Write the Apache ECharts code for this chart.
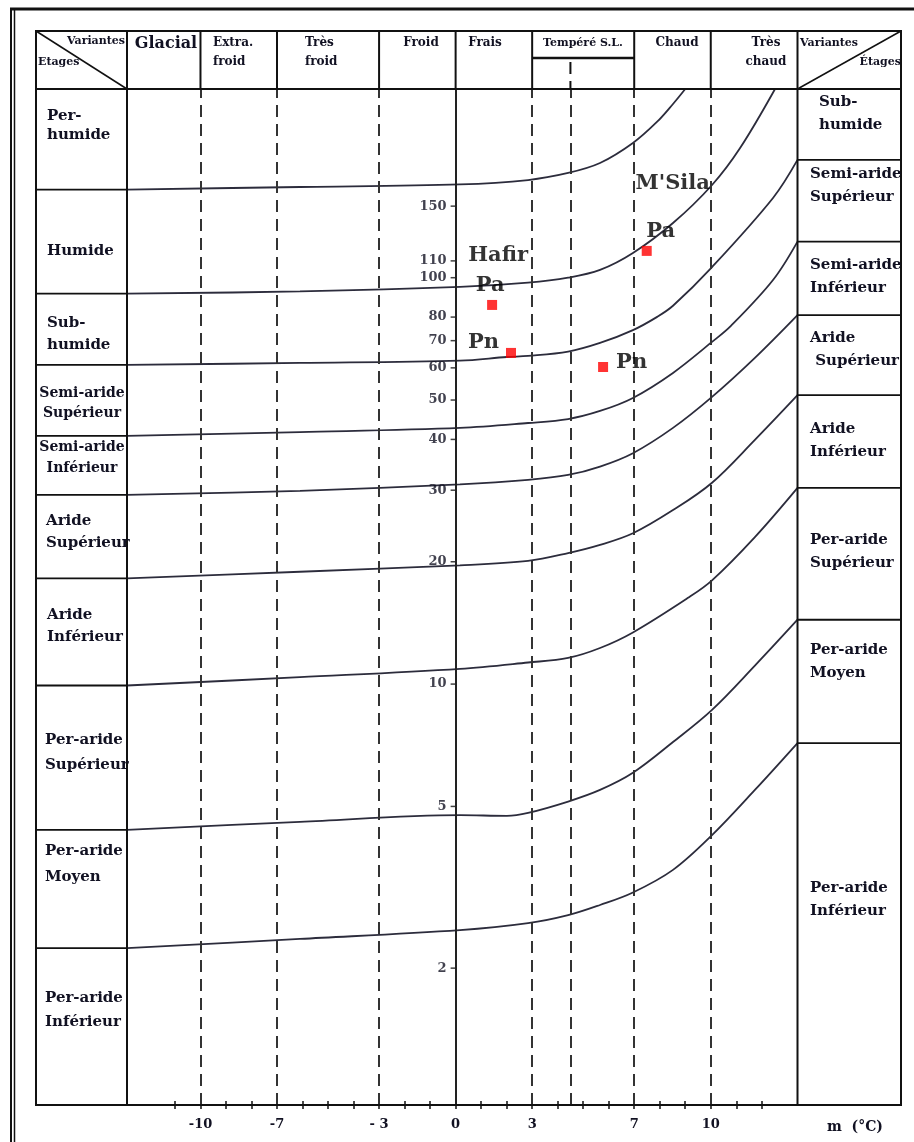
<!DOCTYPE html>
<html><head><meta charset="utf-8">
<script src="https://cdn.jsdelivr.net/npm/echarts@6/dist/echarts.min.js"></script>
<style>html,body{margin:0;padding:0;background:#fff}#c{width:914px;height:1142px}</style>
</head><body><div id="c"></div>
<script>
// ---------- axes ----------
const xMin = -12.88, xMax = 13.4;          // m (°C) range of the plot
const qMin = 0.921, qMax = 291.3;          // Q2 range (log)
const variantBounds = [-10, -7, -3, 0, 3, 7, 10];
const temperateSplit = 4.5;
const xTickValues = [-11,-10,-9,-8,-7,-6,-5,-4,-3,-2,-1,0,1,2,3,4,5,6,7,8,9,10,11,12];
const xLabelValues = [-10, -7, -3, 0, 3, 7, 10];
const xLabelTexts = ['-10', '-7', '- 3', '0', '3', '7', '10'];
const qTickValues = [2, 5, 10, 20, 30, 40, 50, 60, 70, 80, 100, 110, 150];

// ---------- bioclimatic boundaries [m, Q2] ----------
const curvePerhumideHumide = [[-12.88,164.8],[-6.10,167.2],[0.17,169.6],[2.84,173.9],[4.41,181.0],[5.66,191.5],[6.95,214.5],[7.90,242.0],[8.52,267.6],[9.00,291.3]];
const curveHumideSubhumide = [[-12.88,91.4],[-6.10,92.5],[0.17,94.9],[2.84,97.2],[4.41,100],[5.66,104.5],[6.95,115.0],[8.52,136.3],[10.05,169.1],[11.15,208.5],[12.52,291.3]];
const curveSubhumideSemiarideSup = [[-12.88,61.0],[-6.10,61.7],[0.17,62.5],[2.01,63.8],[2.84,64.2],[4.41,65.8],[5.66,69.1],[6.95,74.3],[7.90,80.1],[8.52,85.3],[10.05,106.2],[12.44,157.1],[13.4,194.9]];
const curveSemiarideSupInf = [[-12.88,40.8],[-6.10,41.7],[0.17,42.7],[2.84,43.9],[4.41,44.9],[5.66,47.0],[6.95,50.6],[8.52,58.3],[10.05,69.5],[10.79,76.1],[12.44,98.7],[13.4,122.7]];
const curveSemiarideInfArideSup = [[-12.88,29.2],[-6.10,29.9],[0.17,31.0],[2.84,31.8],[4.41,32.7],[5.66,34.3],[6.95,37.0],[8.52,42.7],[10.05,50.9],[11.73,63.5],[13.4,80.9]];
const curveArideSupInf = [[-12.88,18.2],[-6.10,18.9],[0.17,19.6],[2.84,20.1],[4.41,21.0],[5.66,22.0],[6.95,23.5],[8.52,26.8],[10.05,31.3],[11.73,39.9],[13.4,51.4]];
const curveArideInfPerarideSup = [[-12.88,9.92],[-6.10,10.4],[0.17,10.9],[2.84,11.3],[4.41,11.6],[5.66,12.27],[6.95,13.4],[9.11,16.3],[10.05,18.0],[11.73,23.0],[13.4,30.4]];
const curvePerarideSupMoyen = [[-12.88,4.38],[-6.10,4.58],[0.17,4.76],[2.01,4.74],[2.84,4.82],[4.41,5.14],[5.66,5.49],[6.95,6.05],[8.52,7.20],[10.05,8.64],[11.73,11.1],[13.4,14.4]];
const curvePerarideMoyenInf = [[-12.88,2.24],[-6.10,2.36],[0.17,2.48],[2.84,2.58],[4.41,2.70],[5.66,2.86],[6.95,3.07],[8.52,3.49],[10.05,4.25],[11.73,5.49],[13.4,7.16]];

// ---------- stations ----------
const stationNames = ['Hafir', 'Hafir', "M'Sila", "M'Sila"];
const stationPeriods = ['Pa', 'Pn', 'Pa', 'Pn'];
const stationM = [1.43, 2.17, 7.49, 5.78];
const stationQ = [85.7, 65.3, 116.4, 60.3];

// ---------- texts ----------
const variantHeaders = ['Glacial', 'Extra.\nfroid', 'Très\nfroid', 'Froid', 'Frais', 'Tempéré S.L.', 'Chaud', 'Très\nchaud'];
const leftStages = ['Per-\nhumide','Humide','Sub-\nhumide','Semi-aride\nSupérieur','Semi-aride\nInférieur','Aride\nSupérieur','Aride\nInférieur','Per-aride\nSupérieur','Per-aride\nMoyen','Per-aride\nInférieur'];
const rightStages = ['Sub-\nhumide','Semi-aride\nSupérieur','Semi-aride\nInférieur','Aride\n Supérieur','Aride\nInférieur','Per-aride\nSupérieur','Per-aride\nMoyen','Per-aride\nInférieur'];

const FONT = '"DejaVu Serif", "Liberation Serif", serif';
const INK = '#111122';
const curveList = [curvePerhumideHumide, curveHumideSubhumide, curveSubhumideSemiarideSup, curveSemiarideSupInf, curveSemiarideInfArideSup, curveArideSupInf, curveArideInfPerarideSup, curvePerarideSupMoyen, curvePerarideMoyenInf];

const chart = echarts.init(document.getElementById('c'), null, {renderer: 'canvas'});

const dashedStyle = {color: '#333', width: 2, type: [12, 7]};
const markData = variantBounds.concat([temperateSplit]).map(v => ({
  xAxis: v,
  lineStyle: v === 0 ? {color: '#222', width: 2, type: 'solid'} : dashedStyle
}));

const stationLabel = [
  {position: 'top', distance: 3, offset: [-2, 0], rich: {n: {fontSize: 21, lineHeight: 38, padding: [0, 0, 0, 16]}, p: {fontSize: 21, lineHeight: 22}}, named: true},
  {position: 'left', distance: 7, offset: [0, -10]},
  {position: 'top', distance: 3, offset: [14, 0], rich: {n: {fontSize: 21, lineHeight: 74, padding: [0, 0, 0, 24]}, p: {fontSize: 21, lineHeight: 22}}, named: true},
  {position: 'right', distance: 8, offset: [0, -4]}
];

const option = {
  animation: false,
  backgroundColor: '#fff',
  grid: {left: 127, right: 116.5, top: 89, bottom: 37, containLabel: false, outerBoundsMode: 'none'},
  xAxis: [{
    type: 'value', min: xMin, max: xMax, position: 'bottom',
    axisLine: {show: true, onZero: false, lineStyle: {color: '#111', width: 2}},
    axisTick: {show: true, customValues: xTickValues, length: 4, lineStyle: {color: '#111', width: 1.5}},
    axisLabel: {customValues: xLabelValues, margin: 13, color: INK, fontFamily: FONT, fontWeight: 'bold', fontSize: 13,
      formatter: v => { const i = xLabelValues.indexOf(Math.round(v)); return i >= 0 ? xLabelTexts[i] : ''; }},
    splitLine: {show: false}
  }, {
    type: 'value', min: xMin, max: xMax, position: 'bottom', offset: 0,
    axisLine: {show: false},
    axisTick: {show: true, inside: true, customValues: xTickValues, length: 4, lineStyle: {color: '#111', width: 1.5}},
    axisLabel: {show: false}, splitLine: {show: false}
  }],
  yAxis: {type: 'log', logBase: 10, min: qMin, max: qMax, show: false},
  series: curveList.map(c => ({
    type: 'line', data: c, showSymbol: false, symbol: 'none', smooth: 0.35,
    lineStyle: {color: '#2c2c3c', width: 1.8}, silent: true, z: 3
  })).concat([{
    type: 'scatter', name: 'Q2', data: qTickValues.map(q => [0, q]),
    symbol: 'rect', symbolSize: [5, 1.5], symbolOffset: [-2.5, 0], itemStyle: {color: '#111'}, silent: true, z: 4,
    label: {show: true, position: 'left', distance: 4, formatter: p => String(p.value[1]),
      color: INK, fontFamily: FONT, fontWeight: 'bold', fontSize: 13},
    markLine: {silent: true, symbol: 'none', label: {show: false}, animation: false, data: markData}
  }, {
    type: 'scatter', name: 'stations',
    data: stationM.map((m, i) => ({
      value: [m, stationQ[i]],
      label: Object.assign({
        show: true, color: '#000', fontFamily: FONT, fontWeight: 'bold', fontSize: 21,
        formatter: stationLabel[i].named ? '{n|' + stationNames[i] + '}\n{p|' + stationPeriods[i] + '}' : stationPeriods[i]
      }, (({named, ...rest}) => rest)(stationLabel[i]))
    })),
    symbol: 'rect', symbolSize: 10, itemStyle: {color: '#ff0000'}, silent: true, z: 6
  }])
};
chart.setOption(option);

// ---------- frame, table cells and texts ----------
const px = m => chart.convertToPixel({xAxisIndex: 0}, m);
const py = q => chart.convertToPixel({yAxisIndex: 0}, q);
const g = [];
const L = (x1, y1, x2, y2, w, dash) => g.push({type: 'line', silent: true, z: 10,
  shape: {x1, y1, x2, y2}, style: {stroke: '#111', lineWidth: w, lineDash: dash || null}});
const T = (t, x, y, size, align, lh) => g.push({type: 'text', silent: true, z: 11, x, y,
  style: {text: t, fill: INK, fontFamily: FONT, fontWeight: 'bold', fontSize: size, align: align || 'left', verticalAlign: 'middle', lineHeight: lh || Math.round(size * 1.45)}});

const TL = 36, TR = 901, TT = 31, TB = 1105, HB = 89;
const PL = px(xMin), PR = px(xMax);

// outer page frame
L(10, 9, 914, 9, 3);
L(11, 8, 11, 1142, 2);
L(14.5, 10, 14.5, 1142, 1.5);
// table outline
g.push({type: 'rect', silent: true, z: 10, shape: {x: TL, y: TT, width: TR - TL, height: TB - TT}, style: {fill: null, stroke: '#111', lineWidth: 2}});
L(TL, HB, TR, HB, 2);
L(PL, TT, PL, TB, 2);
L(PR, TT, PR, TB, 2);
variantBounds.forEach(v => L(px(v), TT, px(v), HB, 2));
// Tempéré S.L. sub-cell
L(px(3), 58, px(7), 58, 2.5);
L(px(temperateSplit), 62, px(temperateSplit), HB, 2, [12, 7]);
// diagonals
L(TL, TT, PL, HB, 1.5);
L(PR, HB, TR, TT, 1.5);
// stage separators in side columns
curveList.forEach(c => L(TL, py(c[0][1]), PL, py(c[0][1]), 1.8));
curveList.slice(2).forEach(c => L(PR, py(c[c.length - 1][1]), TR, py(c[c.length - 1][1]), 1.8));

// header texts
T('Variantes', 125, 41, 11, 'right');
T('Etages', 38, 62, 11, 'left');
T(variantHeaders[0], 166, 44, 16, 'center');
T(variantHeaders[1], 213, 52, 12, 'left', 19);
T(variantHeaders[2], 305, 52, 12, 'left', 19);
T(variantHeaders[3], 421, 43, 12, 'center');
T(variantHeaders[4], 485, 43, 12, 'center');
T(variantHeaders[5], 583, 43, 11, 'center');
T(variantHeaders[6], 677, 43, 12, 'center');
T(variantHeaders[7], 766, 52, 12, 'center', 19);
T('Variantes', 800, 43, 11, 'left');
T('Étages', 901, 62, 11, 'right');

// left column stage labels
const leftPos = [[47,126,'left',19,15],[47,251,'left',22,15],[47,334,'left',22,15],[82,403,'center',20,14],[82,458,'center',21,14],[46,532,'left',22,15],[47,626,'left',22,15],[45,753,'left',25,15],[45,864,'left',26,15],[45,1010,'left',24,15]];
leftStages.forEach((s, i) => T(s, leftPos[i][0], leftPos[i][1], leftPos[i][4], leftPos[i][2], leftPos[i][3]));
// right column stage labels
const rightPos = [[819,114],[810,186],[810,277],[810,350],[810,441],[810,552],[810,662],[810,900]];
rightStages.forEach((s, i) => T(s, rightPos[i][0], rightPos[i][1], 15, 'left', 23));

// axis title
T('m  (°C)', 855, 1127, 14, 'center');

chart.setOption({graphic: g});
</script>
</body></html>
